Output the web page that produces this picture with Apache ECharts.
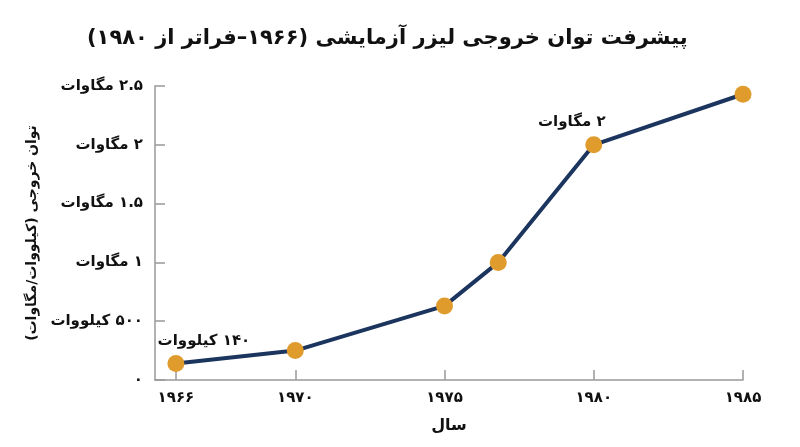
<!DOCTYPE html>
<html>
<head>
    <meta charset="utf-8">
    <title>پیشرفت توان خروجی لیزر</title>
    <style>
        html, body { margin: 0; padding: 0; background: #fff; }
        #chart { width: 800px; height: 447px; }
    </style>
</head>
<body>
    <div id="chart" dir="rtl"></div>
    <script src="https://cdn.jsdelivr.net/npm/echarts@6/dist/echarts.min.js"></script>
    <script>
        // داده‌ها
        var years = [1966, 1970, 1975, 1976.8, 1980, 1985];
        var power = [0.14, 0.25, 0.63, 1.0, 2.0, 2.43];   // مگاوات
        var pointLabels = ['۱۴۰ کیلووات', '', '', '', '۲ مگاوات', ''];

        var xTicks = [1966, 1970, 1975, 1980, 1985];
        var xTickLabels = ['۱۹۶۶', '۱۹۷۰', '۱۹۷۵', '۱۹۸۰', '۱۹۸۵'];
        var yTicks = [0, 0.5, 1, 1.5, 2, 2.5];
        var yTickLabels = ['۰', '۵۰۰ کیلووات', '۱ مگاوات', '۱.۵ مگاوات', '۲ مگاوات', '۲.۵ مگاوات'];

        var font = 'DejaVu Sans';
        var myChart = echarts.init(document.getElementById('chart'));

        var seriesData = [];
        for (var i = 0; i < years.length; i++) {
            var item = { value: [years[i], power[i]] };
            if (pointLabels[i]) {
                item.label = {
                    show: true,
                    formatter: pointLabels[i],
                    position: 'top',
                    offset: i === 0 ? [28, -1] : [-22, -2]
                };
            }
            seriesData.push(item);
        }

        option = {
            animation: false,
            title: {
                text: 'پیشرفت توان خروجی لیزر آزمایشی (۱۹۶۶–فراتر از ۱۹۸۰)',
                left: 82,
                top: 23,
                textStyle: { fontFamily: font, fontSize: 21, fontWeight: 'bold', color: '#111' }
            },
            grid: { left: 155, right: 57, top: 86, bottom: 67 },
            xAxis: {
                type: 'value',
                min: 1965.3,
                max: 1985,
                name: 'سال',
                nameLocation: 'middle',
                nameGap: 38,
                nameTextStyle: { fontFamily: font, fontSize: 16, fontWeight: 'bold', color: '#111' },
                splitLine: { show: false },
                axisLine: { lineStyle: { color: '#999', width: 1.5 } },
                axisTick: { show: true, inside: true, length: 10, customValues: xTicks, lineStyle: { color: '#999', width: 1.5 } },
                axisLabel: {
                    customValues: xTicks,
                    margin: 11,
                    fontFamily: font, fontSize: 15, fontWeight: 'bold', color: '#111',
                    formatter: function (v) {
                        var k = xTicks.indexOf(Math.round(v));
                        return k >= 0 ? xTickLabels[k] : '';
                    }
                }
            },
            yAxis: {
                type: 'value',
                min: 0,
                max: 2.5,
                interval: 0.5,
                name: 'توان خروجی (کیلووات/مگاوات)',
                nameLocation: 'middle',
                nameGap: 113,
                nameTextStyle: { fontFamily: font, fontSize: 14, fontWeight: 'bold', color: '#111' },
                splitLine: { show: false },
                axisLine: { show: true, lineStyle: { color: '#999', width: 1.5 } },
                axisTick: { show: true, inside: true, length: 10, lineStyle: { color: '#999', width: 1.5 } },
                axisLabel: {
                    margin: 12,
                    fontFamily: font, fontSize: 15, fontWeight: 'bold', color: '#111',
                    formatter: function (v) {
                        for (var j = 0; j < yTicks.length; j++) {
                            if (Math.abs(yTicks[j] - v) < 1e-6) return yTickLabels[j];
                        }
                        return '';
                    }
                }
            },
            series: [
                {
                    name: 'توان خروجی',
                    type: 'line',
                    data: seriesData,
                    symbol: 'circle',
                    symbolSize: 17,
                    lineStyle: { color: '#1c355e', width: 4 },
                    itemStyle: { color: '#e09b2d' },
                    label: {
                        fontFamily: font, fontSize: 15, fontWeight: 'bold', color: '#111'
                    },
                    z: 3
                }
            ]
        };
        myChart.setOption(option);
    </script>
</body>
</html>
